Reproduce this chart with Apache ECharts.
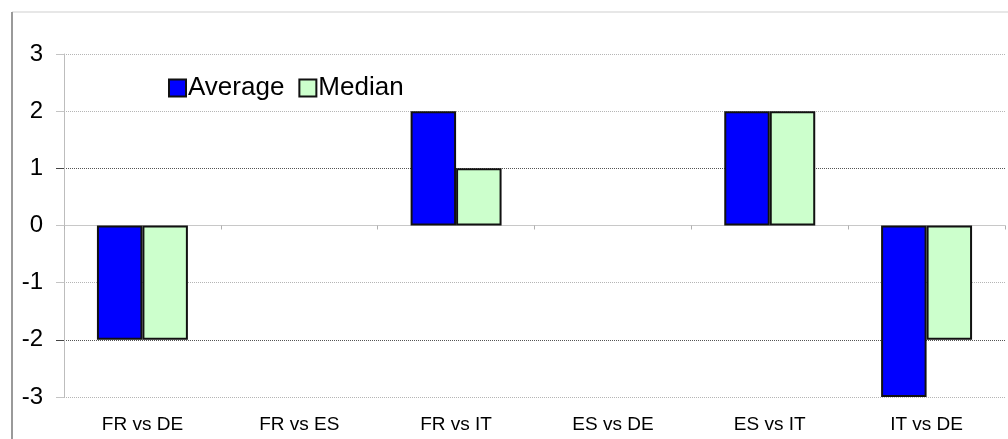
<!DOCTYPE html>
<html><head><meta charset="utf-8">
<script src="https://cdn.jsdelivr.net/npm/echarts@6/dist/echarts.min.js"></script>
<style>html,body{margin:0;padding:0;background:#fff}#c{width:1008px;height:439px}</style>
</head><body><div id="c"></div>
<script>
var categories = ['FR vs DE', 'FR vs ES', 'FR vs IT', 'ES vs DE', 'ES vs IT', 'IT vs DE'];
var averageValues = [-2, 0, 2, 0, 2, -3];
var medianValues = [-2, 0, 1, 0, 2, -2];
var yTicks = [-3, -2, -1, 0, 1, 2, 3];
var darkTicks = [1, -2];

function toItems(arr) {
  return arr.map(function (v) {
    return v === 0 ? {value: v, itemStyle: {borderWidth: 0}} : {value: v};
  });
}

var chart = echarts.init(document.getElementById('c'), null, {renderer: 'canvas'});
var font = 'Liberation Sans, Arial, sans-serif';
chart.setOption({
  animation: false,
  backgroundColor: '#fff',
  graphic: [
    {type: 'line', shape: {x1: 12, y1: 12, x2: 1008, y2: 12}, style: {stroke: '#cfcfcf', lineWidth: 1}},
    {type: 'line', shape: {x1: 12, y1: 12, x2: 12, y2: 439}, style: {stroke: '#9a9a9a', lineWidth: 2}}
  ],
  legend: {
    left: 163, top: 70,
    icon: 'rect',
    itemWidth: 17, itemHeight: 17, itemGap: 14,
    textStyle: {fontFamily: font, fontSize: 26, color: '#000', padding: [0, 0, 0, -3]},
    data: ['Average', 'Median']
  },
  grid: {left: 64, right: 3, top: 54, bottom: 42},
  xAxis: [
    {type: 'category', data: categories, position: 'bottom',
     axisLine: {onZero: true, lineStyle: {color: '#c8c8c8', width: 1}},
     axisTick: {show: true, length: 4, lineStyle: {color: '#b0b0b0'}},
     axisLabel: {show: false}},
    {type: 'category', data: categories, position: 'bottom',
     axisLine: {show: false, onZero: false}, axisTick: {show: false},
     axisLabel: {fontFamily: font, fontSize: 19, color: '#000', margin: 18}}
  ],
  yAxis: [
    {type: 'value', min: -3, max: 3, interval: 1,
     axisLine: {show: true, lineStyle: {color: '#bdbdbd', width: 1}},
     axisTick: {show: true, length: 8, lineStyle: {color: '#c4c4c4'}},
     axisLabel: {fontFamily: font, fontSize: 24, color: '#000', margin: 21, customValues: yTicks},
     splitLine: {show: true, lineStyle: {type: 'dotted', width: 1,
       color: ['#b5b5b5', '#555', '#b5b5b5', '#b5b5b5', '#555', '#b5b5b5', '#b5b5b5']}}},
    {type: 'value', min: -3, max: 3, interval: 1, position: 'left',
     axisLine: {show: false},
     axisTick: {show: true, length: 8, customValues: darkTicks, lineStyle: {color: '#444'}},
     axisLabel: {show: false},
     splitLine: {show: false}}
  ],
  series: [
    {name: 'Average', type: 'bar', data: toItems(averageValues), xAxisIndex: 0, yAxisIndex: 0,
     barWidth: '29%', barGap: '0%',
     itemStyle: {color: '#0000ff', borderColor: '#111', borderWidth: 2}},
    {name: 'Median', type: 'bar', data: toItems(medianValues), xAxisIndex: 0, yAxisIndex: 0,
     barWidth: '29%', barGap: '0%',
     itemStyle: {color: '#ccffcc', borderColor: '#111', borderWidth: 2}}
  ]
});
</script></body></html>
